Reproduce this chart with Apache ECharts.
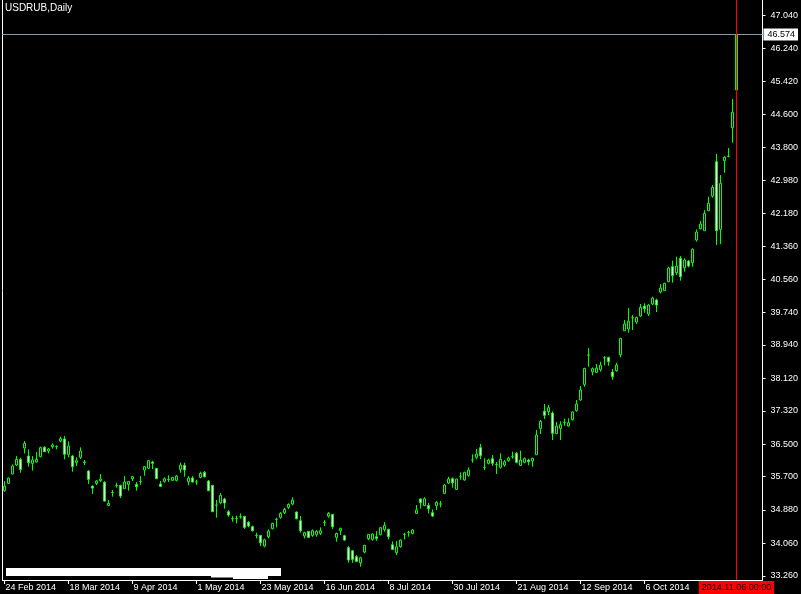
<!DOCTYPE html>
<html><head><meta charset="utf-8">
<script src="https://cdn.jsdelivr.net/npm/echarts@6/dist/echarts.min.js"></script>
<style>html,body{margin:0;padding:0;background:#000;}#c{width:801px;height:594px;}</style>
</head><body><div id="c"></div>
<script>
// ---- data (USDRUB daily, 24 Feb 2014 .. 6 Nov 2014) ----
const chartTitle = 'USDRUB,Daily';
const barCount = 184;
const emptySlots = 6;
const opens = [35.355,35.535,35.765,35.986,36.125,36.404,36.207,36.027,36.060,36.191,
36.421,36.331,36.437,36.437,36.576,36.626,36.249,36.207,36.043,36.175,
36.060,35.839,35.469,35.535,35.601,35.560,34.994,35.310,35.480,35.486,
35.404,35.510,35.650,35.510,35.580,35.863,35.904,36.060,35.904,35.519,
35.584,35.630,35.609,35.609,35.879,35.978,35.576,35.666,35.570,35.683,
35.806,35.592,35.486,35.000,35.059,35.150,34.838,34.670,34.670,34.710,
34.723,34.576,34.469,34.250,34.256,33.993,34.223,34.420,34.650,34.699,
34.813,34.945,35.027,34.830,34.617,34.240,34.354,34.256,34.280,34.305,
34.570,34.731,34.772,34.207,34.371,34.248,33.953,33.879,33.731,33.583,
33.846,34.174,34.157,34.223,34.281,34.403,34.403,34.026,33.830,33.977,
34.280,34.328,34.305,34.797,35.150,34.986,34.994,34.814,34.986,35.030,
35.289,35.543,35.650,35.387,35.700,35.617,35.732,36.110,36.175,36.412,
35.930,36.027,36.142,36.000,35.929,35.986,36.093,36.190,36.273,35.978,
36.052,36.109,36.085,36.240,36.888,37.306,37.298,37.265,36.757,36.888,
37.040,36.945,37.101,37.323,37.585,37.968,38.688,38.280,38.264,38.329,
38.620,38.633,38.272,38.305,38.698,39.289,39.330,39.610,39.502,39.649,
39.895,39.699,39.945,40.043,40.240,40.273,40.494,40.863,40.715,41.068,
40.838,41.002,40.961,41.518,41.797,41.748,42.240,42.600,43.445,41.780,
43.470,43.580,44.281,45.208];
const closes = [35.469,35.666,35.961,36.125,35.879,36.519,36.043,36.109,36.125,36.413,
36.314,36.380,36.478,36.445,36.634,36.249,36.453,35.945,36.093,36.331,
36.051,35.634,35.420,35.592,35.642,35.100,35.043,35.314,35.486,35.223,
35.568,35.584,35.699,35.453,35.584,35.945,36.093,36.027,35.650,35.461,
35.650,35.634,35.675,35.715,35.986,35.863,35.666,35.568,35.568,35.781,
35.699,35.355,34.838,35.002,35.240,35.051,34.756,34.666,34.674,34.715,
34.453,34.485,34.371,34.256,34.075,34.149,34.362,34.551,34.649,34.797,
34.895,35.018,35.125,34.666,34.371,34.322,34.207,34.371,34.354,34.371,
34.576,34.797,34.469,34.305,34.428,34.141,33.649,33.666,33.616,33.706,
34.010,34.281,34.289,34.182,34.445,34.502,34.223,33.911,33.977,34.141,
34.281,34.330,34.387,34.879,35.059,35.158,34.912,34.731,35.068,35.027,
35.494,35.642,35.551,35.642,35.699,35.806,35.863,36.109,36.257,36.216,
35.929,36.109,36.027,36.002,36.126,36.068,36.158,36.191,36.052,36.109,
36.142,36.068,36.150,36.724,37.060,37.208,37.396,36.765,36.945,36.978,
37.036,37.027,37.290,37.487,37.831,38.362,38.690,38.354,38.370,38.444,
38.624,38.526,38.157,38.444,39.100,39.453,39.526,39.608,39.617,39.863,
39.830,39.920,40.092,39.920,40.338,40.453,40.830,40.642,40.879,40.617,
41.027,40.879,41.289,41.715,41.912,42.174,42.420,42.814,41.748,42.912,
43.552,43.576,44.659,46.574];
const lows = [35.330,35.519,35.757,35.961,35.797,36.273,35.945,35.847,36.043,36.175,
36.306,36.273,36.388,36.371,36.544,36.125,36.175,35.822,35.961,36.134,
35.986,35.519,35.273,35.494,35.568,35.092,34.977,35.207,35.428,35.174,
35.396,35.355,35.592,35.355,35.502,35.724,35.888,35.888,35.642,35.453,
35.551,35.568,35.592,35.584,35.797,35.699,35.486,35.560,35.494,35.658,
35.683,35.347,34.830,34.690,35.018,34.912,34.715,34.592,34.551,34.666,
34.412,34.453,34.346,34.182,33.993,33.961,34.182,34.403,34.453,34.666,
34.781,34.904,34.994,34.649,34.322,34.182,34.190,34.223,34.223,34.264,
34.485,34.690,34.412,34.100,34.264,34.125,33.583,33.583,33.608,33.485,
33.813,34.141,34.125,34.125,34.256,34.346,34.157,33.903,33.772,33.953,
34.157,34.223,34.280,34.781,34.912,34.977,34.797,34.707,34.879,34.945,
35.273,35.519,35.428,35.371,35.625,35.601,35.699,36.044,36.126,36.134,
35.863,36.002,35.961,35.765,35.896,35.945,36.068,36.142,36.027,35.970,
36.027,35.978,35.945,36.232,36.749,37.118,37.216,36.601,36.749,36.601,
36.954,36.929,37.077,37.298,37.569,37.911,38.403,38.190,38.247,38.280,
38.436,38.428,38.083,38.280,38.633,39.280,39.240,39.305,39.453,39.625,
39.731,39.649,39.920,39.748,40.207,40.265,40.478,40.469,40.658,40.519,
40.740,40.847,40.863,41.477,41.780,41.748,42.231,42.559,41.395,41.420,
43.174,43.552,43.912,45.190];
const highs = [35.592,35.683,36.002,36.207,36.166,36.576,36.371,36.207,36.306,36.437,
36.453,36.404,36.519,36.470,36.683,36.699,36.568,36.232,36.175,36.421,
36.109,35.863,35.480,35.617,35.765,35.592,35.125,35.371,35.551,35.502,
35.715,35.592,35.715,35.568,35.715,35.961,36.109,36.093,35.910,35.592,
35.683,35.732,35.699,35.740,36.043,36.043,35.715,35.715,35.625,35.822,
35.839,35.617,35.494,35.125,35.297,35.182,34.879,34.731,34.740,34.797,
34.731,34.608,34.494,34.322,34.264,34.174,34.403,34.567,34.690,34.830,
34.936,35.043,35.191,34.846,34.731,34.346,34.362,34.403,34.387,34.453,
34.633,34.830,34.781,34.322,34.445,34.272,33.993,33.895,33.772,33.731,
34.026,34.289,34.305,34.362,34.461,34.584,34.420,34.108,34.117,34.157,
34.321,34.371,34.412,35.002,35.166,35.191,35.059,34.895,35.101,35.101,
35.519,35.699,35.683,35.650,35.806,35.822,35.929,36.248,36.380,36.503,
36.150,36.142,36.232,36.060,36.273,36.109,36.191,36.314,36.306,36.339,
36.175,36.142,36.167,36.847,37.093,37.487,37.462,37.306,37.044,37.060,
37.126,37.134,37.306,37.585,37.929,38.378,38.862,38.387,38.469,38.526,
38.665,38.649,38.346,38.501,39.108,39.551,39.846,39.674,39.633,39.945,
39.961,39.945,40.125,40.076,40.437,40.469,40.863,41.011,41.109,41.125,
41.068,41.027,41.314,41.780,41.985,42.256,42.584,42.871,43.634,43.117,
43.584,43.781,44.987,46.600];
const priceTicks = [33.26,34.06,34.88,35.70,36.50,37.32,38.12,38.94,39.74,40.56,
41.36,42.18,42.98,43.80,44.60,45.42,46.24,47.04];
const bidPrice = 46.574;
const yMin = 33.159, yMax = 47.421;
const labelEvery = 16;
const lastLabelIndex = 160;
const monthNames = ['Jan','Feb','Mar','Apr','May','Jun','Jul','Aug','Sep','Oct','Nov','Dec'];

// ---- weekday calendar categories ----
const categories = [], dateLabels = [];
(function(){
  const d = new Date(Date.UTC(2014, 1, 24));
  const p2 = n => (n < 10 ? '0' : '') + n;
  while (categories.length < barCount) {
    const wd = d.getUTCDay();
    if (wd !== 0 && wd !== 6) {
      categories.push(d.getUTCFullYear() + '.' + p2(d.getUTCMonth() + 1) + '.' + p2(d.getUTCDate()));
      dateLabels.push(d.getUTCDate() + ' ' + monthNames[d.getUTCMonth()] + ' ' + d.getUTCFullYear());
    }
    d.setUTCDate(d.getUTCDate() + 1);
  }
  for (let k = 0; k < emptySlots; k++) { categories.push('pad' + k); dateLabels.push(''); }
})();
const lastDate = categories[barCount - 1];
const ohlc = opens.map((o, i) => [o, closes[i], lows[i], highs[i]]);

const FONT = 'Liberation Sans';
const showIdx = (i) => i % labelEvery === 0 && i <= lastLabelIndex;

const chart = echarts.init(document.getElementById('c'), null, {renderer: 'canvas'});
chart.setOption({
  animation: false,
  backgroundColor: '#000000',
  title: {text: chartTitle, left: 5, top: 3, padding: 0,
    textStyle: {color: '#ffffff', fontSize: 10, fontWeight: 'normal', fontFamily: FONT}},
  grid: {left: 2.5, top: 0, width: 760, height: 580, outerBoundsMode: 'none', containLabel: false},
  xAxis: {
    type: 'category', data: categories, boundaryGap: true,
    axisLine: {show: true, lineStyle: {color: '#ffffff', width: 1}},
    axisTick: {show: true, alignWithLabel: true, length: 4, interval: (i) => showIdx(i), lineStyle: {color: '#ffffff'}},
    axisLabel: {show: true, interval: (i) => showIdx(i), formatter: (v, i) => dateLabels[i],
      align: 'left', margin: 3, color: '#ffffff', fontSize: 9, fontFamily: FONT, padding: [0, 0, 0, 1]},
    splitLine: {show: false}
  },
  yAxis: {
    type: 'value', position: 'right', min: yMin, max: yMax, scale: true,
    axisLine: {show: true, lineStyle: {color: '#ffffff', width: 1}},
    axisTick: {show: true, length: 3, customValues: priceTicks, lineStyle: {color: '#ffffff'}},
    axisLabel: {show: true, customValues: priceTicks, formatter: (v) => v.toFixed(3),
      margin: 8, color: '#ffffff', fontSize: 9, fontFamily: FONT},
    splitLine: {show: false}
  },
  series: [{
    type: 'candlestick',
    data: ohlc,
    barWidth: 2,
    itemStyle: {color: '#000000', color0: '#ffffff', borderColor: '#00ff00', borderColor0: '#00ff00',
      borderColorDoji: '#00ff00', borderWidth: 1},
    emphasis: {disabled: true},
    markLine: {
      silent: true, symbol: 'none', animation: false,
      data: [
        {yAxis: bidPrice, lineStyle: {color: '#8a99a8', type: 'solid', width: 1},
          label: {show: true, position: 'end', distance: 1, formatter: bidPrice.toFixed(3),
            backgroundColor: '#ffffff', color: '#000000', fontSize: 9, fontFamily: FONT,
            padding: [1, 3, 1, 4], lineHeight: 10}},
        {xAxis: lastDate, lineStyle: {color: '#ff0000', type: 'solid', width: 1},
          label: {show: true, position: 'start', distance: 1, formatter: lastDate + ' 00:00',
            backgroundColor: '#ff0000', color: '#000000', fontSize: 9, fontFamily: FONT,
            padding: [1, 3, 1, 3], lineHeight: 11}}
      ]
    }
  }],
  graphic: [
    {type: 'line', shape: {x1: 2.5, y1: 0, x2: 2.5, y2: 581}, style: {stroke: '#ffffff', lineWidth: 1}, silent: true},
    {type: 'rect', shape: {x: 6, y: 568, width: 275, height: 8}, style: {fill: '#ffffff'}, silent: true},
    {type: 'rect', shape: {x: 211, y: 576, width: 57, height: 1.5}, style: {fill: '#ffffff'}, silent: true},
    {type: 'rect', shape: {x: 233, y: 576, width: 35, height: 3}, style: {fill: '#ffffff'}, silent: true}
  ]
});
</script></body></html>
